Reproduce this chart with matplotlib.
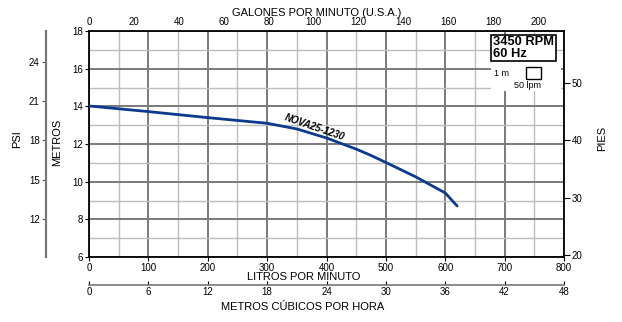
import matplotlib
matplotlib.use("Agg")
import matplotlib.pyplot as plt
from matplotlib.patches import Rectangle

plt.rcParams['font.family'] = ['Liberation Sans', 'DejaVu Sans']

# curve NOVA25-1230, litros por minuto vs metros
lpm = [0, 100, 200, 300, 350, 400, 450, 473, 500, 550, 600, 620]
metros = [14.02, 13.72, 13.40, 13.10, 12.80, 12.32, 11.73, 11.42, 11.02, 10.26, 9.4, 8.71]

lpm_ticks = [0, 100, 200, 300, 400, 500, 600, 700, 800]
m_ticks = [6, 8, 10, 12, 14, 16, 18]
gpm_ticks = [0, 20, 40, 60, 80, 100, 120, 140, 160, 180, 200]
ft_ticks = [20, 30, 40, 50]
psi_ticks = [12, 15, 18, 21, 24]
m3h_ticks = [0, 6, 12, 18, 24, 30, 36, 42, 48]

W, H = 622, 322
fig = plt.figure(figsize=(W / 100, H / 100), dpi=100)
ax = fig.add_axes([89 / W, 1 - 257 / H, 475 / W, 226 / H])

ax.set_xlim(0, 800)
ax.set_ylim(6, 18)
ax.set_xticks(lpm_ticks)
ax.set_xticks(range(50, 800, 100), minor=True)
ax.set_yticks(m_ticks)
ax.set_yticks(range(7, 18, 2), minor=True)
ax.grid(which='major', color='#7a7a7a', lw=1.4)
ax.grid(which='minor', color='#bdbdbd', lw=1.0)
ax.set_axisbelow(True)
ax.tick_params(which='minor', length=0)
ax.tick_params(which='major', labelsize=7, length=3, width=0.8, pad=1)
for s in ax.spines.values():
    s.set_linewidth(1.3)

ax.plot(lpm, metros, color='#0c3a8c', lw=2, solid_capstyle='round', zorder=3)
ax.text(328, 13.3, 'NOVA25-1230', rotation=-19, fontsize=7, fontweight='bold',
        fontstyle='italic', ha='left', va='baseline', rotation_mode='anchor', zorder=4)

# top: gallons per minute
top = ax.secondary_xaxis('top', functions=(lambda x: x / 3.785, lambda g: g * 3.785))
top.set_xticks(gpm_ticks)
top.tick_params(labelsize=7, length=1, width=0.8, pad=2)
top.spines['top'].set_visible(False)

# right: feet
right = ax.secondary_yaxis('right', functions=(lambda m: m * 3.281, lambda f: f / 3.281))
right.set_yticks(ft_ticks)
right.tick_params(labelsize=7, length=4, width=0.8, pad=1.5)
right.spines['right'].set_visible(False)

# left offset: psi
psi_fwd = lambda m: 12 + 1.439 * (m - 8.02)
psi_inv = lambda p: (p - 12) / 1.439 + 8.02
left = ax.secondary_yaxis((46 - 89) / 475, functions=(psi_fwd, psi_inv))
left.set_yticks(psi_ticks)
left.tick_params(labelsize=7, length=3, width=0.8, pad=1.5, color='#555555')
left.spines['left'].set_color('#777777')
left.spines['left'].set_linewidth(1.6)

# bottom offset: cubic meters per hour
m3h = ax.secondary_xaxis(-28 / 226, functions=(lambda x: x * 0.06, lambda v: v / 0.06))
m3h.set_xticks(m3h_ticks)
m3h.tick_params(labelsize=7, length=3, width=0.8, pad=1.5, direction='in')
m3h.spines['bottom'].set_color('#777777')
m3h.spines['bottom'].set_linewidth(1.2)
m3h.spines['top'].set_visible(False)

fig.text(317 / W, 1 - 13 / H, 'GALONES POR MINUTO (U.S.A.)', fontsize=8, ha='center', va='center')
fig.text(304 / W, 1 - 277.5 / H, 'LITROS POR MINUTO', fontsize=8, ha='center', va='center')
fig.text(303 / W, 1 - 307 / H, 'METROS CÚBICOS POR HORA', fontsize=8, ha='center', va='center')
fig.text(17 / W, 1 - 139 / H, 'PSI', rotation=90, fontsize=8, ha='center', va='center')
fig.text(57 / W, 1 - 142 / H, 'METROS', rotation=90, fontsize=8, ha='center', va='center')
fig.text(602 / W, 1 - 138 / H, 'PIES', rotation=90, fontsize=8, ha='center', va='center')

# speed box and scale legend
ax.add_patch(Rectangle(((491 - 89) / 475, (257 - 91) / 226), 70 / 475, 30 / 226,
                       transform=ax.transAxes, facecolor='white', edgecolor='none', zorder=2))
ax.text((493 - 89) / 475, (257 - 48) / 226, '3450 RPM\n60 Hz', transform=ax.transAxes,
        fontsize=9.3, fontweight='bold', va='center', ha='left', linespacing=0.9, zorder=4,
        bbox=dict(boxstyle='square,pad=0.15', facecolor='white', edgecolor='black', lw=1.2))
ax.add_patch(Rectangle(((526 - 89) / 475, (257 - 79) / 226), 15 / 475, 12 / 226,
                       transform=ax.transAxes, facecolor='white', edgecolor='black', lw=1, zorder=4))
ax.text((501 - 89) / 475, (257 - 73) / 226, '1 m', transform=ax.transAxes, fontsize=6.5,
        ha='center', va='center', zorder=4)
ax.text((527 - 89) / 475, (257 - 86) / 226, '50 lpm', transform=ax.transAxes, fontsize=6.5,
        ha='center', va='center', zorder=4)

fig.savefig('out.png', dpi=100)
